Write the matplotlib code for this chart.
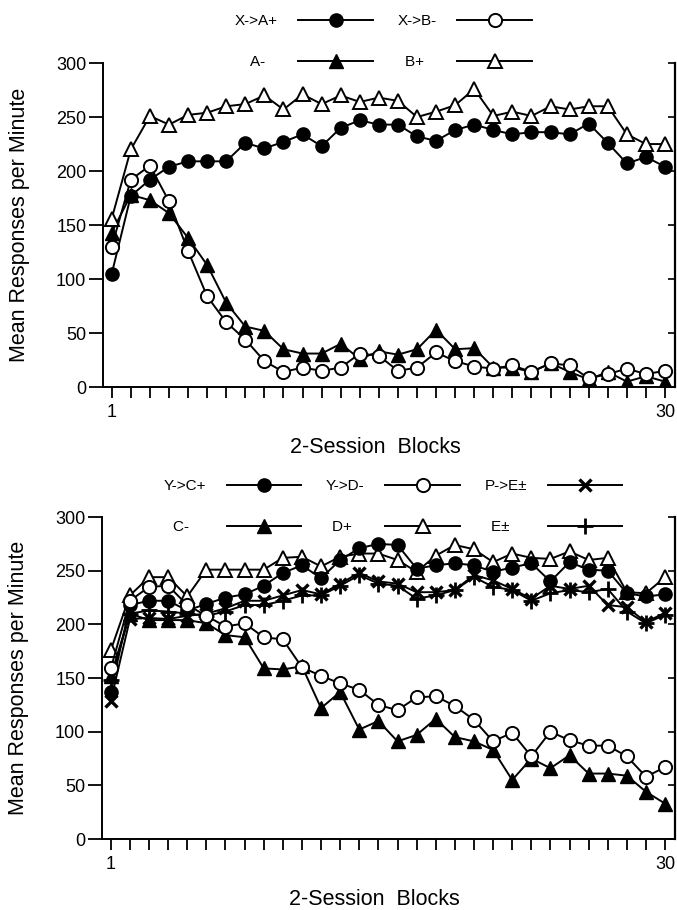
import numpy as np
import matplotlib
matplotlib.use("Agg")
import matplotlib.pyplot as plt
from matplotlib.ticker import FixedLocator, NullFormatter

plt.rcParams['font.family'] = ['Liberation Sans', 'DejaVu Sans']

blocks = np.arange(1, 31)

# 上图：X->A+ / X->B- / A- / B+
xa_plus = [105, 177, 192, 204, 209, 209, 209, 226, 221, 227, 234, 223, 240, 247, 243,
           243, 232, 228, 238, 243, 238, 234, 236, 236, 234, 244, 226, 207, 213, 204]
xb_minus = [130, 192, 205, 172, 126, 84, 60, 44, 24, 14, 18, 15, 18, 31, 29,
            15, 18, 32, 24, 19, 17, 20, 14, 22, 20, 8, 12, 17, 12, 15]
a_minus = [143, 178, 173, 161, 138, 113, 78, 56, 52, 35, 31, 31, 40, 26, 33,
           30, 35, 53, 35, 36, 18, 18, 14, 22, 14, 7, 14, 5, 10, 5]
b_plus = [156, 220, 251, 243, 252, 254, 260, 262, 270, 257, 271, 262, 270, 264, 268,
          265, 250, 255, 261, 276, 251, 255, 251, 260, 257, 260, 260, 234, 225, 225]

# 下图：Y->C+ / Y->D- / P->E± / C- / D+ / E±
yc_plus = [137, 218, 222, 222, 213, 219, 225, 228, 236, 248, 255, 243, 260, 271, 275,
           274, 252, 255, 257, 255, 249, 253, 257, 240, 258, 251, 250, 229, 226, 228]
yd_minus = [159, 222, 235, 236, 218, 208, 198, 201, 188, 186, 160, 152, 145, 139, 125,
            120, 132, 133, 124, 111, 91, 99, 77, 100, 92, 87, 87, 77, 58, 67]
pe_pm = [129, 205, 206, 205, 208, 210, 215, 222, 222, 227, 232, 228, 238, 248, 240,
         238, 230, 230, 232, 246, 241, 233, 224, 236, 233, 236, 218, 216, 202, 211]
c_minus = [152, 210, 204, 204, 204, 201, 190, 188, 159, 158, 161, 122, 137, 102, 110,
           91, 97, 112, 95, 91, 83, 55, 75, 66, 78, 61, 61, 59, 44, 33]
d_plus = [176, 227, 244, 244, 226, 251, 251, 251, 251, 262, 263, 254, 263, 266, 266,
          260, 249, 264, 274, 270, 258, 266, 262, 261, 268, 260, 262, 230, 229, 244]
e_pm = [148, 210, 213, 212, 210, 208, 212, 218, 218, 222, 227, 227, 236, 246, 238,
        236, 224, 227, 232, 244, 235, 232, 222, 229, 232, 230, 233, 212, 201, 209]

yticks = [0, 50, 100, 150, 200, 250, 300]

LW = 1.4
STYLE = {
    'filled_o': dict(marker='o', ms=9.5, mfc='black', mec='black'),
    'open_o': dict(marker='o', ms=9.5, mfc='white', mec='black', mew=1.4),
    'filled_t': dict(marker='^', ms=10, mfc='black', mec='black'),
    'open_t': dict(marker='^', ms=10, mfc='white', mec='black', mew=1.4),
    'cross': dict(marker='x', ms=9, mec='black', mew=2.4),
    'plus': dict(marker='+', ms=12, mec='black', mew=2.0),
}


def setup_axes(ax):
    ax.set_xlim(0.54, 30.52)
    ax.set_ylim(0, 300)
    ax.spines['top'].set_visible(False)
    ax.spines['right'].set_visible(False)
    for s in ['left', 'bottom']:
        ax.spines[s].set_linewidth(1.4)
    ax.xaxis.set_major_locator(FixedLocator(blocks))
    ax.set_xticklabels(['1'] + [''] * 28 + ['30'])
    ax.set_yticks(yticks)
    ax.tick_params(axis='x', direction='out', length=8, width=1.3, pad=4, labelsize=13)
    ax.tick_params(axis='y', direction='out', length=10, width=1.3, pad=2, labelsize=13)
    # 右侧轴线，刻度朝内
    sec = ax.secondary_yaxis('right')
    sec.set_yticks(yticks)
    sec.yaxis.set_major_formatter(NullFormatter())
    sec.tick_params(direction='in', length=5, width=1.2)
    sec.spines['right'].set_linewidth(1.6)
    ax.set_xlabel('2-Session  Blocks', fontsize=15.5)
    ax.xaxis.set_label_coords(0.476, -0.155)
    ax.set_ylabel('Mean Responses per Minute', fontsize=15.5)
    ax.yaxis.set_label_coords(-0.128, 0.5)


fig = plt.figure(figsize=(6.77, 9.10), dpi=100)
ax1 = fig.add_axes([0.1521, 0.5747, 0.8449, 0.3560])
ax2 = fig.add_axes([0.1507, 0.0780, 0.8464, 0.3538])

# 上图（短标签后补空格，让文字在图例里大致居中）
h_xa, = ax1.plot(blocks, xa_plus, color='black', lw=LW, label='X->A+', **STYLE['filled_o'])
h_am, = ax1.plot(blocks, a_minus, color='black', lw=LW, label='A-   ', **STYLE['filled_t'])
h_bp, = ax1.plot(blocks, b_plus, color='black', lw=LW, label='B+   ', **STYLE['open_t'])
h_xb, = ax1.plot(blocks, xb_minus, color='black', lw=LW, label='X->B-', **STYLE['open_o'])
setup_axes(ax1)

# 下图
h_pe, = ax2.plot(blocks, pe_pm, color='black', lw=LW, label='P->E±', **STYLE['cross'])
h_ep, = ax2.plot(blocks, e_pm, color='black', lw=LW, label='E±    ', **STYLE['plus'])
h_dp, = ax2.plot(blocks, d_plus, color='black', lw=LW, label='D+   ', **STYLE['open_t'])
h_yc, = ax2.plot(blocks, yc_plus, color='black', lw=LW, label='Y->C+', **STYLE['filled_o'])
h_cm, = ax2.plot(blocks, c_minus, color='black', lw=LW, label='C-    ', **STYLE['filled_t'])
h_yd, = ax2.plot(blocks, yd_minus, color='black', lw=LW, label='Y->D-', **STYLE['open_o'])
setup_axes(ax2)

leg_kw = dict(loc='center', frameon=False, markerfirst=False, fontsize=11,
              handlelength=4.9, handletextpad=1.35, columnspacing=1.6,
              labelspacing=1.75, borderpad=0, borderaxespad=0)
fig.legend(handles=[h_xa, h_am, h_xb, h_bp], ncol=2,
           bbox_to_anchor=(0.5665, 0.9544), **leg_kw)
fig.legend(handles=[h_yc, h_cm, h_yd, h_dp, h_pe, h_ep], ncol=3,
           bbox_to_anchor=(0.5805, 0.4434), **leg_kw)

fig.savefig('out.png', dpi=100)
